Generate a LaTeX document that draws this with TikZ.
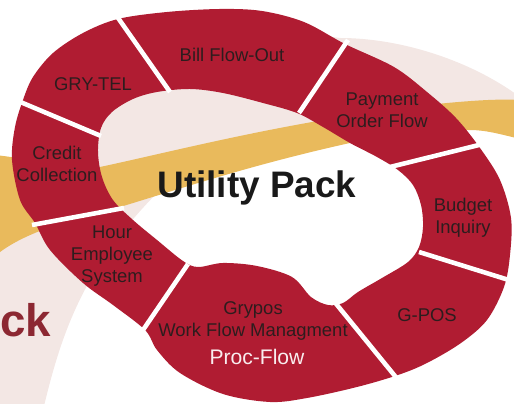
\documentclass[tikz,border=0pt]{standalone}
\usepackage{fontspec}
\setmainfont{Liberation Sans}
\definecolor{ringred}{RGB}{176,28,50}
\definecolor{labeltext}{RGB}{45,28,30}
\definecolor{swooshpink}{RGB}{243,231,228}
\definecolor{swooshgold}{RGB}{233,186,92}
\definecolor{ckred}{RGB}{140,40,50}
\colorlet{procwhite}{white!92!ringred}
\tikzstyle{seglabel}=[text=labeltext, align=center, inner sep=0pt,
  font=\fontsize{10.5}{12.5}\selectfont]
\tikzstyle{divider}=[white, line width=2.6pt]

\begin{document}
\begin{tikzpicture}[x=0.02cm, y=-0.02cm]
  \useasboundingbox (0,0) rectangle (514,404);

  % background swooshes
  \fill[swooshpink] (-5,410) -- (43,410) .. controls (60,340) and (80,270) .. (160,190)
    .. controls (250,160) and (400,120) .. (520,108) -- (520,97)
    .. controls (470,60) and (400,38) .. (340,38)
    .. controls (220,20) and (120,50) .. (60,140)
    .. controls (30,190) and (10,220) .. (-5,245) -- cycle;
  \fill[swooshgold] (-5,155) .. controls (40,160) and (70,170) .. (100,167)
    .. controls (180,150) and (300,118) .. (447,103)
    .. controls (480,100) and (500,99) .. (520,100) -- (520,139)
    .. controls (500,134) and (485,130) .. (470,130)
    .. controls (420,133) and (380,136) .. (350,143)
    .. controls (250,165) and (170,192) .. (120,207)
    .. controls (60,222) and (20,235) .. (-5,256) -- cycle;

  \node[font=\bfseries\fontsize{26}{28}\selectfont, text=ckred, inner sep=0pt,
    anchor=base west] (ck) at (0,337) {ck};

  % the ring
  \fill[ringred, even odd rule]
    plot[smooth cycle, tension=0.55] coordinates {
      (12,160) (15,127) (23,100) (33,77) (53,53) (83,33) (118,19) (167,12)
      (220,9) (262,11) (304,22) (345,44) (394,67) (427,92) (456,118)
      (480,148) (500,180) (511,218) (510,255) (504,287) (487,320) (461,343)
      (427,363) (398,375) (357,387) (307,398) (270,402) (223,394) (180,373)
      (157,350) (145,330) (113,305) (83,283) (50,250) (35,223) (20,200)}
    plot[smooth cycle, tension=0.55] coordinates {
      (98,152) (101,128) (112,112) (133,99) (157,92) (190,89) (223,93)
      (263,103) (297,113) (323,127) (350,143) (377,157) (398,170) (413,185)
      (421,205) (423,227) (419,247) (408,262) (382,278) (358,292) (343,303)
      (328,305) (311,297) (292,277) (257,266) (223,263) (198,267)
      (183,261) (157,240) (133,220) (113,200) (102,177)};

  % dividers between the parts
  \coordinate (s1i) at (170,92);  \coordinate (s1o) at (116,15);
  \coordinate (s2i) at (299,113); \coordinate (s2o) at (348,40);
  \coordinate (s3i) at (386,168); \coordinate (s3o) at (483,144);
  \coordinate (s4i) at (419,252); \coordinate (s4o) at (512,281);
  \coordinate (s5i) at (333,300); \coordinate (s5o) at (399,381);
  \coordinate (s6i) at (188,264); \coordinate (s6o) at (141,333);
  \coordinate (s7i) at (124,208); \coordinate (s7o) at (32,225);
  \coordinate (s8i) at (101,136); \coordinate (s8o) at (18,101);
  \foreach \s in {s1,s2,s3,s4,s5,s6,s7,s8}
    \draw[divider] (\s i) -- (\s o);

  % labels
  \node[seglabel] (grytel)  at (93,84)   {GRY-TEL};
  \node[seglabel] (bill)    at (232,55)  {Bill Flow-Out};
  \node[seglabel] (payment) at (382,110) {Payment\\Order Flow};
  \node[seglabel] (budget)  at (463,218) {Budget\\Inquiry};
  \node[seglabel] (gpos)    at (427,315) {G-POS};
  \node[seglabel] (grypos)  at (253,321) {Grypos\\Work Flow Managment};
  \node[seglabel] (hour)    at (112,256) {Hour\\Employee\\System};
  \node[seglabel] (credit)  at (57,164)  {Credit\\Collection};
  \node[text=procwhite, inner sep=0pt, font=\fontsize{12}{14}\selectfont]
    (proc) at (257,357) {Proc-Flow};

  \node[font=\bfseries\fontsize{21}{24}\selectfont, text=black!90, inner sep=0pt,
    anchor=base] (title) at (257,198) {Utility Pack};
\end{tikzpicture}
\end{document}
